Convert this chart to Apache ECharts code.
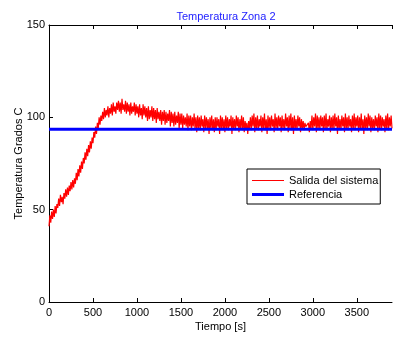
<!DOCTYPE html>
<html>
<head>
<meta charset="utf-8">
<script src="https://cdn.jsdelivr.net/npm/echarts@6/dist/echarts.min.js"></script>
<style>
  html, body { margin: 0; padding: 0; background: #fff; }
  #chart { width: 393px; height: 337px; }
</style>
</head>
<body>
<div id="chart"></div>
<script>
// muestreo cada 10 s, desde 0 hasta 3900 s (una fila = 100 s)
const paso = 10;
const salida = [
  41, 47, 43, 49, 45, 50, 46, 52, 48, 53,
  51, 56, 52, 58, 54, 57, 53, 59, 56, 61,
  57, 62, 58, 63, 60, 65, 61, 66, 62, 67,
  64, 70, 66, 72, 68, 74, 70, 76, 72, 78,
  75, 81, 77, 83, 79, 85, 81, 87, 83, 89,
  86, 92, 89, 95, 91, 97, 94, 100, 96, 101,
  98, 103, 99, 105, 100, 104, 101, 106, 100, 105,
  102, 107, 101, 108, 103, 106, 102, 108, 104, 109,
  103, 108, 102, 110, 104, 107, 103, 109, 102, 108,
  103, 107, 101, 108, 102, 106, 103, 108, 101, 107,
  102, 106, 100, 107, 101, 105, 99, 107, 101, 106,
  100, 105, 98, 106, 99, 104, 100, 106, 98, 105,
  99, 104, 97, 105, 99, 103, 98, 104, 96, 103,
  98, 104, 96, 103, 97, 102, 98, 104, 95, 103,
  97, 102, 95, 103, 96, 101, 97, 103, 94, 102,
  96, 102, 94, 101, 96, 100, 95, 102, 93, 101,
  95, 101, 93, 100, 95, 102, 94, 100, 92, 101,
  94, 100, 93, 101, 95, 99, 92, 101, 94, 100,
  94, 99, 91, 100, 94, 101, 93, 99, 92, 100,
  93, 100, 95, 99, 91, 101, 94, 100, 93, 99,
  92, 101, 94, 100, 93, 99, 95, 101, 91, 100,
  94, 99, 93, 101, 95, 100, 92, 99, 94, 101,
  93, 100, 92, 98, 94, 97, 91, 98, 94, 100,
  93, 101, 95, 102, 92, 100, 94, 101, 93, 99,
  95, 101, 92, 100, 94, 102, 93, 99, 91, 101,
  94, 100, 93, 101, 95, 99, 92, 102, 94, 100,
  93, 101, 95, 100, 92, 101, 94, 99, 93, 102,
  95, 100, 92, 101, 94, 102, 93, 100, 91, 101,
  94, 99, 93, 101, 95, 100, 92, 99, 94, 98,
  93, 97, 95, 96, 94, 97, 92, 98, 94, 101,
  93, 100, 95, 102, 92, 101, 94, 100, 93, 101,
  95, 100, 92, 101, 94, 102, 93, 99, 95, 101,
  92, 100, 94, 101, 93, 102, 95, 100, 91, 101,
  94, 99, 93, 101, 95, 100, 92, 102, 94, 100,
  93, 101, 95, 99, 92, 101, 94, 102, 93, 100,
  95, 101, 92, 100, 94, 102, 93, 99, 91, 101,
  94, 100, 93, 102, 95, 101, 92, 100, 94, 99,
  93, 101, 95, 100, 92, 102, 94, 101, 93, 100,
  95, 99, 92, 101, 94, 102, 93, 100, 95, 101,
  94
];
const referencia = 93.5;
const tiempoMax = 3900;
const ticksX = [0, 500, 1000, 1500, 2000, 2500, 3000, 3500];
const ticksY = [0, 50, 100, 150];

const serieSalida = salida.map((v, i) => [i * paso, v]);
const serieRef = [[0, referencia], [tiempoMax, referencia]];

const fuente = 'Liberation Sans, Arial, sans-serif';
const chart = echarts.init(document.getElementById('chart'));

const ejeBase = {
  axisLine: { show: true, lineStyle: { color: '#000', width: 1 } },
  axisTick: { show: true, inside: true, length: 4, lineStyle: { color: '#000' } },
  splitLine: { show: false },
};

chart.setOption({
  animation: false,
  backgroundColor: '#fff',
  title: {
    text: 'Temperatura Zona 2',
    left: 221,
    textAlign: 'center',
    top: 6,
    textStyle: { color: '#2222ff', fontSize: 11, fontWeight: 'normal', fontFamily: fuente },
  },
  legend: {
    orient: 'vertical',
    left: 247,
    top: 169,
    padding: [6, 2, 4, 5],
    itemGap: 3,
    itemWidth: 32,
    itemHeight: 10,
    backgroundColor: '#fff',
    borderColor: '#000',
    borderWidth: 1,
    borderRadius: 0,
    textStyle: { color: '#000', fontSize: 11, fontFamily: fuente },
    data: [
      { name: 'Salida del sistema', icon: 'path://M0,0H32V1H0Z' },
      { name: 'Referencia', icon: 'path://M0,0H32V3H0Z' },
    ],
  },
  grid: { left: 49, right: 1, top: 25, bottom: 35, outerBoundsMode: 'none' },
  xAxis: [
    {
      ...ejeBase,
      type: 'value',
      min: 0,
      max: tiempoMax,
      interval: 500,
      name: 'Tiempo [s]',
      nameLocation: 'middle',
      nameGap: 19,
      nameMoveOverlap: false,
      nameTextStyle: { color: '#000', fontSize: 11, fontFamily: fuente },
      axisLabel: {
        color: '#000', fontSize: 11, fontFamily: fuente, margin: 5,
        showMaxLabel: false,
        formatter: v => (ticksX.includes(v) ? String(v) : ''),
      },
    },
    {
      ...ejeBase,
      type: 'value',
      position: 'top',
      min: 0,
      max: tiempoMax,
      interval: 500,
      axisLabel: { show: false },
    },
  ],
  yAxis: {
    ...ejeBase,
    type: 'value',
    min: 0,
    max: 150,
    interval: 50,
    name: 'Temperatura Grados C',
    nameLocation: 'middle',
    nameGap: 25,
    nameMoveOverlap: false,
    nameTextStyle: { color: '#000', fontSize: 11, fontFamily: fuente },
    axisLabel: {
      color: '#000', fontSize: 11, fontFamily: fuente, margin: 4,
      formatter: v => (ticksY.includes(v) ? String(v) : ''),
    },
  },
  series: [
    {
      name: 'Salida del sistema',
      type: 'line',
      data: serieSalida,
      symbol: 'none',
      lineStyle: { color: '#ff0000', width: 1.2 },
      itemStyle: { color: '#ff0000' },
    },
    {
      name: 'Referencia',
      type: 'line',
      data: serieRef,
      symbol: 'none',
      lineStyle: { color: '#0000ff', width: 3 },
      itemStyle: { color: '#0000ff' },
    },
  ],
});
</script>
</body>
</html>
